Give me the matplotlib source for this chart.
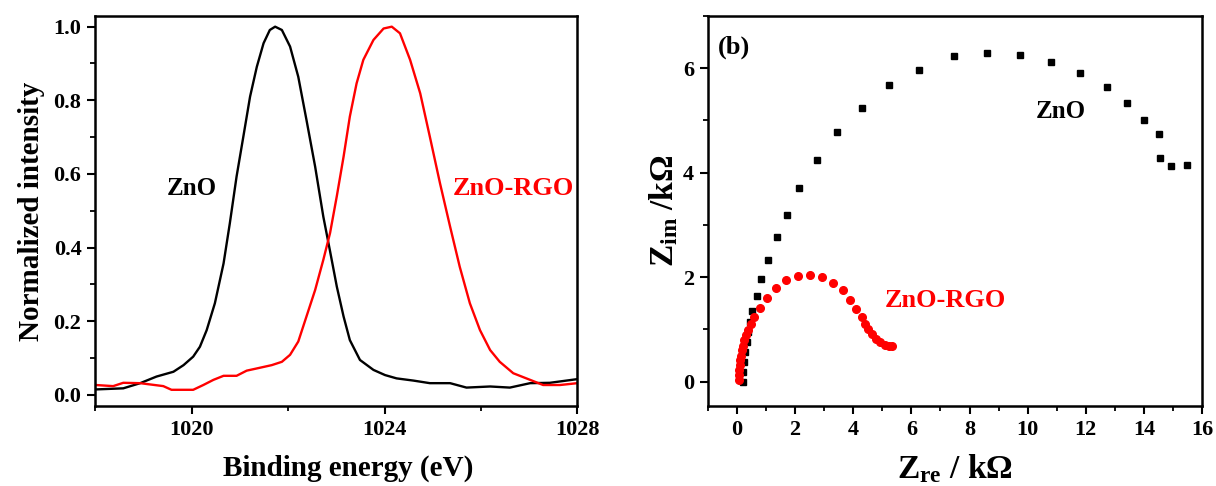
import matplotlib
matplotlib.use("Agg")
import matplotlib.pyplot as plt
from matplotlib.ticker import MultipleLocator

plt.rcParams['font.family'] = 'Liberation Serif'
plt.rcParams['font.weight'] = 'bold'
plt.rcParams['axes.labelweight'] = 'bold'
plt.rcParams['mathtext.fontset'] = 'custom'
plt.rcParams['mathtext.rm'] = 'Liberation Serif:bold'
plt.rcParams['mathtext.it'] = 'Liberation Serif:bold'
plt.rcParams['mathtext.bf'] = 'Liberation Serif:bold'

# XPS spectra
e_zno = [1018.01, 1018.58, 1018.93, 1019.27, 1019.62, 1019.83, 1020.03, 1020.17, 1020.31,
         1020.48, 1020.66, 1020.79, 1020.93, 1021.07, 1021.21, 1021.35, 1021.49, 1021.62,
         1021.73, 1021.87, 1022.04, 1022.21, 1022.38, 1022.56, 1022.73, 1022.87, 1023.01,
         1023.15, 1023.28, 1023.49, 1023.77, 1024.01, 1024.25, 1024.60, 1024.94, 1025.36,
         1025.70, 1026.19, 1026.60, 1027.02, 1027.43, 1028.0]
i_zno = [0.015, 0.018, 0.032, 0.050, 0.063, 0.081, 0.104, 0.131, 0.176,
         0.249, 0.357, 0.466, 0.593, 0.701, 0.810, 0.891, 0.955, 0.991,
         1.000, 0.991, 0.946, 0.864, 0.747, 0.620, 0.484, 0.390, 0.294,
         0.213, 0.149, 0.095, 0.068, 0.054, 0.045, 0.039, 0.032, 0.032,
         0.020, 0.023, 0.020, 0.032, 0.033, 0.043]

e_rgo = [1018.01, 1018.37, 1018.58, 1018.93, 1019.41, 1019.58, 1020.03, 1020.24, 1020.45,
         1020.66, 1020.93, 1021.14, 1021.35, 1021.66, 1021.87, 1022.04, 1022.21, 1022.38,
         1022.56, 1022.73, 1022.87, 1023.01, 1023.15, 1023.28, 1023.42, 1023.56, 1023.77,
         1023.98, 1024.15, 1024.32, 1024.53, 1024.74, 1024.94, 1025.15, 1025.36, 1025.56,
         1025.77, 1025.98, 1026.19, 1026.39, 1026.67, 1027.02, 1027.29, 1027.64, 1028.0]
i_rgo = [0.027, 0.024, 0.033, 0.032, 0.024, 0.014, 0.014, 0.027, 0.041,
         0.052, 0.052, 0.066, 0.072, 0.081, 0.090, 0.109, 0.145, 0.213,
         0.285, 0.367, 0.440, 0.540, 0.647, 0.756, 0.846, 0.910, 0.964,
         0.995, 1.000, 0.982, 0.910, 0.819, 0.701, 0.575, 0.457, 0.348,
         0.249, 0.176, 0.122, 0.090, 0.059, 0.041, 0.027, 0.027, 0.032]

# Nyquist plots (kOhm)
zre_zno = [0.19, 0.215, 0.25, 0.284, 0.33, 0.39, 0.445, 0.525, 0.675, 0.835, 1.065, 1.364,
           1.708, 2.143, 2.74, 3.44, 4.29, 5.24, 6.26, 7.47, 8.59, 9.72, 10.79, 11.8,
           12.72, 13.42, 14.0, 14.52, 14.57, 14.94, 15.49]
zim_zno = [0.0, 0.19, 0.38, 0.57, 0.76, 0.95, 1.14, 1.35, 1.64, 1.96, 2.33, 2.77,
           3.18, 3.71, 4.25, 4.77, 5.24, 5.67, 5.97, 6.23, 6.29, 6.24, 6.11, 5.90,
           5.64, 5.34, 5.01, 4.73, 4.28, 4.13, 4.14]

zre_rgo = [0.078, 0.075, 0.08, 0.09, 0.10, 0.125, 0.16, 0.19, 0.25, 0.31, 0.39, 0.47,
           0.58, 0.79, 1.02, 1.34, 1.68, 2.09, 2.51, 2.91, 3.29, 3.64, 3.89, 4.09,
           4.31, 4.40, 4.52, 4.63, 4.77, 4.92, 5.09, 5.24, 5.32]
zim_rgo = [0.025, 0.12, 0.22, 0.31, 0.41, 0.50, 0.60, 0.69, 0.79, 0.885, 0.98, 1.10,
           1.23, 1.41, 1.61, 1.80, 1.94, 2.03, 2.05, 2.00, 1.89, 1.75, 1.57, 1.40,
           1.24, 1.11, 1.00, 0.905, 0.82, 0.76, 0.71, 0.69, 0.69]

fig = plt.figure(figsize=(12.16, 4.86), dpi=100)
ax1 = fig.add_axes([0.0784, 0.1646, 0.3964, 0.8025])
ax2 = fig.add_axes([0.5822, 0.1646, 0.4063, 0.803])

# (a) XPS
ax1.plot(e_zno, i_zno, color='black', lw=1.7)
ax1.plot(e_rgo, i_rgo, color='red', lw=1.7)
ax1.set_xlim(1018, 1028)
ax1.set_ylim(-0.03, 1.029)
ax1.xaxis.set_minor_locator(MultipleLocator(2))
ax1.yaxis.set_major_locator(MultipleLocator(0.2))
ax1.yaxis.set_minor_locator(MultipleLocator(0.1))
ax1.set_xticks([1020, 1024, 1028])
ax1.set_xlabel('Binding energy (eV)', fontsize=21)
ax1.xaxis.set_label_coords(0.525, -0.125)
ax1.set_ylabel('Normalized intensity', fontsize=21, labelpad=6)
ax1.text(1020.0, 0.56, 'ZnO', fontsize=18, ha='center', va='center')
ax1.text(1025.42, 0.56, 'ZnO-RGO', fontsize=19, color='red', ha='left', va='center')

# (b) EIS
ax2.plot(zre_zno, zim_zno, 's', color='black', ms=5)
ax2.plot(zre_rgo, zim_rgo, 'o', color='red', ms=5.5)
ax2.set_xlim(-1, 16)
ax2.set_ylim(-0.465, 7.0)
ax2.xaxis.set_minor_locator(MultipleLocator(1))
ax2.yaxis.set_major_locator(MultipleLocator(2))
ax2.yaxis.set_minor_locator(MultipleLocator(1))
ax2.set_xticks(range(0, 17, 2))
ax2.set_xlabel('Z$_{\\rm re}$ / kΩ', fontsize=24, labelpad=9)
ax2.set_ylabel('Z$_{\\rm im}$ /kΩ', fontsize=24, labelpad=2)
ax2.text(-0.65, 6.39, '(b)', fontsize=19, ha='left', va='center')
ax2.text(10.29, 5.16, 'ZnO', fontsize=18, ha='left', va='center')
ax2.text(5.09, 1.55, 'ZnO-RGO', fontsize=19, color='red', ha='left', va='center')

for ax in (ax1, ax2):
    for s in ax.spines.values():
        s.set_linewidth(1.8)
    ax.tick_params(which='major', direction='out', length=6, width=1.5,
                   labelsize=16, top=False, right=False, pad=4)
    ax.tick_params(which='minor', direction='out', length=3.5, width=1.3,
                   top=False, right=False)

fig.savefig('out.png', dpi=100)
